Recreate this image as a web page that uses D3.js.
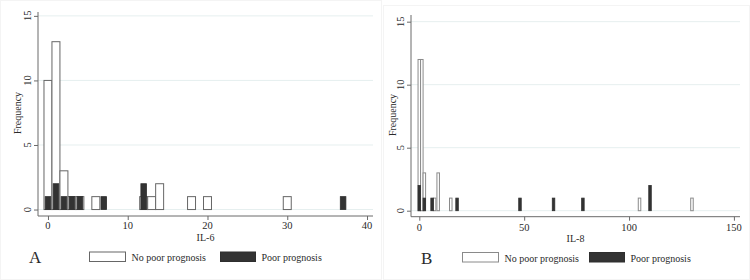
<!DOCTYPE html>
<html>
<head>
<meta charset="utf-8">
<script src="https://cdn.jsdelivr.net/npm/d3@7"></script>
<style>
  html, body { margin: 0; padding: 0; background: #fff; }
  svg { display: block; }
  text { font-family: "Liberation Serif", "DejaVu Serif", serif; fill: #2a2a2a; }
</style>
</head>
<body>
<svg id="chart" width="750" height="280"></svg>
<script>
// ---------- data ----------
const yTicks = [0, 5, 10, 15];

// Panel A: IL-6
const il6Ticks = [0, 10, 20, 30, 40];
const il6NoPoorBins = [0, 1, 2, 3, 4, 6, 12, 13, 14, 18, 20, 30];
const il6NoPoorFreq = [10, 13, 3, 1, 1, 1, 1, 1, 2, 1, 1, 1];
const il6PoorBins = [0, 1, 2, 3, 4, 7, 12, 37];
const il6PoorFreq = [1, 2, 1, 1, 1, 1, 2, 1];

// Panel B: IL-8
const il8Ticks = [0, 50, 100, 150];
const il8NoPoorBins = [0, 1.2, 2.4, 7.3, 9, 15, 105, 130];
const il8NoPoorFreq = [12, 12, 3, 1, 3, 1, 1, 1];
const il8PoorBins = [0, 2.4, 6.1, 18, 48, 64, 78, 110];
const il8PoorFreq = [2, 1, 1, 1, 1, 1, 1, 2];

const legendLabels = ["No poor prognosis", "Poor prognosis"];

// ---------- drawing ----------
const svg = d3.select("#chart");

// very faint panel frames
svg.append("rect").attr("x", 0.5).attr("y", 0.5).attr("width", 381).attr("height", 279)
  .attr("fill", "none").attr("stroke", "#f4f4f4");
svg.append("rect").attr("x", 383.5).attr("y", 5.5).attr("width", 366).attr("height", 274)
  .attr("fill", "none").attr("stroke", "#f4f4f4");

function panel(cfg) {
  const g = svg.append("g");
  const x = d3.scaleLinear().domain(cfg.xDomain).range(cfg.xRange);
  const y = d3.scaleLinear().domain(cfg.yDomain).range(cfg.yRange);
  const [x0, x1] = cfg.xRange;
  const [yb, yt] = cfg.yRange;

  // gridlines
  g.selectAll(".grid").data(yTicks).enter().append("line")
    .attr("x1", x0).attr("x2", x1)
    .attr("y1", d => y(d)).attr("y2", d => y(d))
    .attr("stroke", "#e6efef").attr("stroke-width", 1);

  // white bars
  const nb = cfg.noPoorBins.map((b, i) => ({ b, f: cfg.noPoorFreq[i] }));
  g.selectAll(".wb").data(nb).enter().append("rect")
    .attr("x", d => x(d.b - cfg.wWhite / 2))
    .attr("width", d => x(d.b + cfg.wWhite / 2) - x(d.b - cfg.wWhite / 2))
    .attr("y", d => y(d.f))
    .attr("height", d => y(0) - y(d.f))
    .attr("fill", "#ffffff").attr("stroke", cfg.whiteStroke).attr("stroke-width", 1);

  // dark bars
  const pb = cfg.poorBins.map((b, i) => ({ b, f: cfg.poorFreq[i] }));
  g.selectAll(".db").data(pb).enter().append("rect")
    .attr("x", d => x(d.b - cfg.wDark / 2))
    .attr("width", d => x(d.b + cfg.wDark / 2) - x(d.b - cfg.wDark / 2))
    .attr("y", d => y(d.f))
    .attr("height", d => y(0) - y(d.f))
    .attr("fill", "#333333").attr("stroke", "#2e2e2e").attr("stroke-width", 0.8);

  // y axis
  const ya = g.append("g").attr("transform", `translate(${x0},0)`)
    .call(d3.axisLeft(y).tickValues(yTicks).tickSize(4).tickFormat(""));
  ya.select(".domain").attr("d", `M0,${yt}V${yb}`).attr("stroke", "#6a6a6a");
  ya.selectAll(".tick line").attr("stroke", "#6a6a6a");
  g.selectAll(".ylab").data(yTicks).enter().append("text")
    .attr("transform", d => `translate(${cfg.yLabX},${y(d)}) rotate(-90)`)
    .attr("text-anchor", "middle").attr("font-size", 10.5).text(d => d);
  g.append("text")
    .attr("transform", `translate(${cfg.freqX},${cfg.freqY}) rotate(-90)`)
    .attr("text-anchor", "middle").attr("font-size", 10).text("Frequency");

  // x axis
  const xa = g.append("g").attr("transform", `translate(0,${yb})`)
    .call(d3.axisBottom(x).tickValues(cfg.xTicks).tickSize(4).tickFormat(""));
  xa.select(".domain").attr("d", `M${x0},0H${x1}`).attr("stroke", "#6a6a6a");
  xa.selectAll(".tick line").attr("stroke", "#6a6a6a");
  g.selectAll(".xlab").data(cfg.xTicks).enter().append("text")
    .attr("x", d => x(d)).attr("y", cfg.xLabY)
    .attr("text-anchor", "middle").attr("font-size", 10.5).text(d => d);
  g.append("text").attr("x", (x0 + x1) / 2).attr("y", cfg.titleY)
    .attr("text-anchor", "middle").attr("font-size", 10).text(cfg.title);

  // panel letter
  g.append("text").attr("x", cfg.letterX).attr("y", cfg.legY + 2)
    .attr("font-size", 17).text(cfg.letter);

  // legend
  g.append("rect").attr("x", cfg.leg1X).attr("y", cfg.legY - 9).attr("width", 36).attr("height", 9.5)
    .attr("fill", "#fff").attr("stroke", cfg.whiteStroke);
  g.append("text").attr("x", cfg.leg1X + 42).attr("y", cfg.legY).attr("font-size", 10).text(legendLabels[0]);
  g.append("rect").attr("x", cfg.leg2X).attr("y", cfg.legY - 9).attr("width", 35).attr("height", 9.5)
    .attr("fill", "#333").attr("stroke", "#2e2e2e");
  g.append("text").attr("x", cfg.leg2X + 41).attr("y", cfg.legY).attr("font-size", 10).text(legendLabels[1]);
}

panel({
  xDomain: [-1.25, 40.75], xRange: [38, 373],
  yDomain: [-0.5, 15.3], yRange: [216, 12],
  xTicks: il6Ticks, title: "IL-6", letter: "A",
  noPoorBins: il6NoPoorBins, noPoorFreq: il6NoPoorFreq,
  poorBins: il6PoorBins, poorFreq: il6PoorFreq,
  wWhite: 1.0, wDark: 0.7, whiteStroke: "#666666",
  yLabX: 31, freqX: 21, freqY: 113, xLabY: 229, titleY: 240.5,
  letterX: 29, legY: 261, leg1X: 89.5, leg2X: 220.5
});

panel({
  xDomain: [-3.96, 152.9], xRange: [411, 740],
  yDomain: [-0.476, 15.53], yRange: [216.7, 15],
  xTicks: il8Ticks, title: "IL-8", letter: "B",
  noPoorBins: il8NoPoorBins, noPoorFreq: il8NoPoorFreq,
  poorBins: il8PoorBins, poorFreq: il8PoorFreq,
  wWhite: 1.2, wDark: 1.2, whiteStroke: "#8a8a8a",
  yLabX: 404, freqX: 396, freqY: 115, xLabY: 231, titleY: 241.5,
  letterX: 421, legY: 261.5, leg1X: 462.5, leg2X: 589.5
});
</script>
</body>
</html>
